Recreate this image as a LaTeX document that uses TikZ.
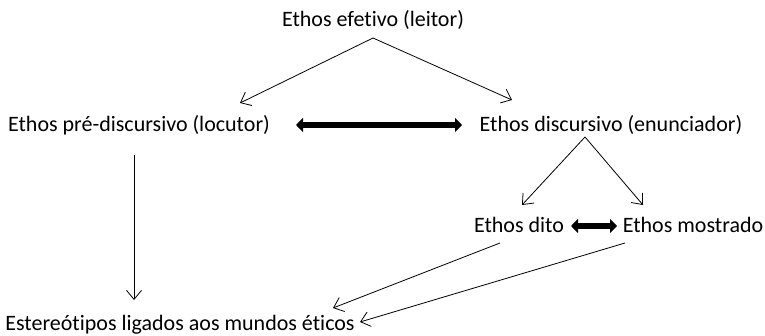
\documentclass[tikz,border=0pt]{standalone}
\usepackage{fontspec}
\setmainfont[Ligatures=NoCommon]{Carlito}
\usetikzlibrary{arrows.meta,calc}
\begin{document}
\begin{tikzpicture}[x=1pt,y=-1pt,
  lbl/.style={inner sep=0pt,font=\fontsize{22}{24}\selectfont,anchor=center},
  thin/.style={line width=0.8pt,-{Straight Barb[length=9pt,width=15pt]}},
  fat/.style={line width=6pt,{Triangle[length=7pt,width=14pt]}-{Triangle[length=7pt,width=14pt]}}]
\useasboundingbox (0,0) rectangle (765,336);
\node[lbl] (ef) at (373,20) {Ethos efetivo (leitor)};
\node[lbl] (pre) at (139,125) {Ethos pré-discursivo (locutor)};
\node[lbl] (dis) at (611,125) {Ethos discursivo (enunciador)};
\node[lbl] (dito) at (519,225) {Ethos dito};
\node[lbl] (mos) at (693,225) {Ethos mostrado};
\node[lbl] (est) at (180,325) {Estereótipos ligados aos mundos éticos};
\coordinate (efb) at (373,38);
\coordinate (pret) at (240,103);
\coordinate (dist) at (512,100);
\coordinate (disb) at (585,137);
\coordinate (ditot) at (522,205);
\coordinate (most) at (643,205);
\coordinate (preb) at (134,155);
\coordinate (estt) at (134,300);
\coordinate (ditob) at (500,243);
\coordinate (mosb) at (625,243);
\coordinate (esta) at (333,308);
\coordinate (estb) at (360,322);
\coordinate (fa1) at (296,125);
\coordinate (fa2) at (462,125);
\coordinate (fb1) at (571,226);
\coordinate (fb2) at (617,226);
\draw[thin] (efb) -- (pret);
\draw[thin] (efb) -- (dist);
\draw[thin] (disb) -- (ditot);
\draw[thin] (disb) -- (most);
\draw[thin] (preb) -- (estt);
\draw[thin] (ditob) -- (esta);
\draw[thin] (mosb) -- (estb);
\draw[fat] (fa1) -- (fa2);
\draw[fat] (fb1) -- (fb2);
\end{tikzpicture}
\end{document}
